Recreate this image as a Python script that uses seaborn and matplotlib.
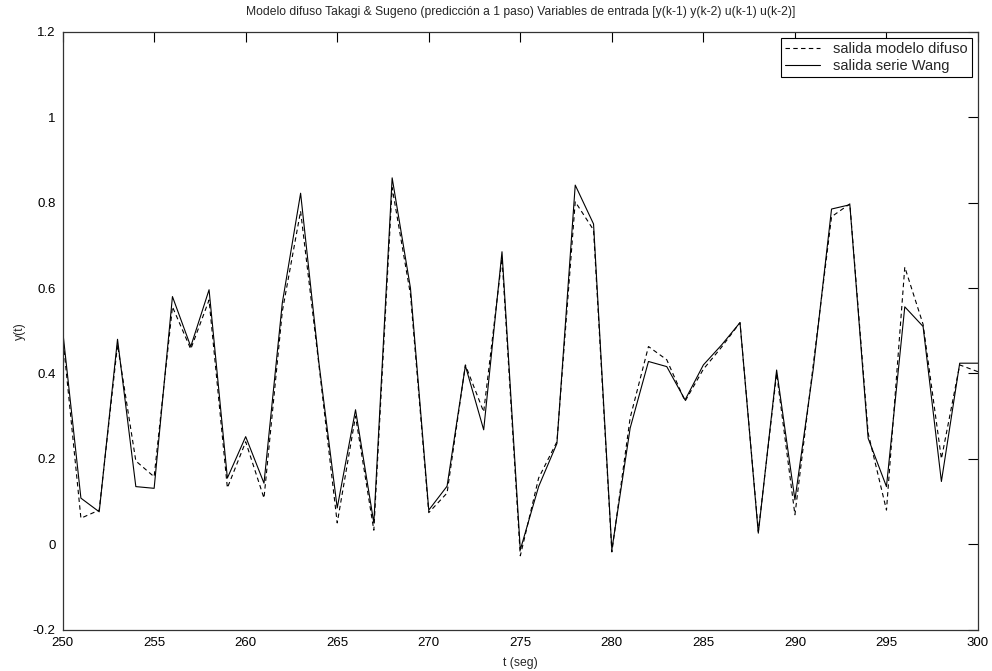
import numpy as np
import pandas as pd
import matplotlib
matplotlib.use("Agg")
import matplotlib.pyplot as plt
import seaborn as sns

# Time steps and series values
t = list(range(250, 301))

serie_wang = [
    0.502, 0.108, 0.076, 0.480, 0.135, 0.131, 0.580, 0.463, 0.596, 0.155,
    0.252, 0.143, 0.565, 0.822, 0.425, 0.085, 0.315, 0.050, 0.858, 0.600,
    0.080, 0.136, 0.418, 0.268, 0.685, -0.013, 0.135, 0.236, 0.841, 0.750,
    -0.013, 0.272, 0.428, 0.416, 0.338, 0.420, 0.467, 0.519, 0.026, 0.408,
    0.104, 0.410, 0.785, 0.795, 0.248, 0.135, 0.556, 0.510, 0.147, 0.424,
    0.424,
]

modelo_difuso = [
    0.490, 0.061, 0.080, 0.467, 0.195, 0.158, 0.556, 0.457, 0.572, 0.132,
    0.240, 0.108, 0.545, 0.780, 0.420, 0.050, 0.300, 0.033, 0.835, 0.585,
    0.074, 0.120, 0.420, 0.310, 0.670, -0.027, 0.155, 0.240, 0.802, 0.736,
    -0.018, 0.296, 0.463, 0.432, 0.335, 0.410, 0.462, 0.519, 0.030, 0.400,
    0.069, 0.420, 0.767, 0.797, 0.260, 0.080, 0.649, 0.515, 0.200, 0.420,
    0.404,
]

title = ("Modelo difuso Takagi & Sugeno (predicción a 1 paso) "
         "Variables de entrada [y(k-1) y(k-2) u(k-1) u(k-2)]")
xticks = list(range(250, 301, 5))
yticks = [-0.2, 0, 0.2, 0.4, 0.6, 0.8, 1, 1.2]
ytick_labels = ["-0.2", "0", "0.2", "0.4", "0.6", "0.8", "1", "1.2"]

sns.set_style("white")
plt.rcParams["font.family"] = ["Liberation Sans", "DejaVu Sans"]
plt.rcParams["font.size"] = 9

df = pd.DataFrame({"t": t, "difuso": modelo_difuso, "wang": serie_wang})

fig = plt.figure(figsize=(9.92, 6.71), dpi=100)
ax = fig.add_axes([0.0631, 0.0616, 0.9228, 0.891])

sns.lineplot(data=df, x="t", y="difuso", ax=ax, color="black", lw=0.8,
             linestyle=(0, (4, 3)), label="salida modelo difuso")
sns.lineplot(data=df, x="t", y="wang", ax=ax, color="black", lw=0.8,
             label="salida serie Wang")

ax.set_xlim(250, 300)
ax.set_ylim(-0.2, 1.2)
ax.set_xticks(xticks)
ax.set_xticklabels([str(v) for v in xticks])
ax.set_yticks(yticks)
ax.set_yticklabels(ytick_labels)

ax.tick_params(direction="in", length=7, width=0.8, top=True, right=True,
               labelsize=9.5, colors="black")
ax.tick_params(axis="x", pad=5)
ax.tick_params(axis="y", pad=5)
for side in ax.spines.values():
    side.set_visible(True)
    side.set_color("#333333")
    side.set_linewidth(0.9)

ax.set_title(title, fontsize=8.7, pad=12)
ax.set_xlabel("t (seg)", fontsize=8.7, labelpad=6)
ax.set_ylabel("y(t)", fontsize=8.7, labelpad=5)

leg = ax.legend(loc="upper right", fontsize=10.5, frameon=True, fancybox=False,
                framealpha=1, edgecolor="black", borderpad=0.3,
                handlelength=2.4, handletextpad=0.9, labelspacing=0.2,
                borderaxespad=0.4)
leg.get_frame().set_linewidth(0.8)

fig.savefig("out.png", dpi=100, facecolor="white")
